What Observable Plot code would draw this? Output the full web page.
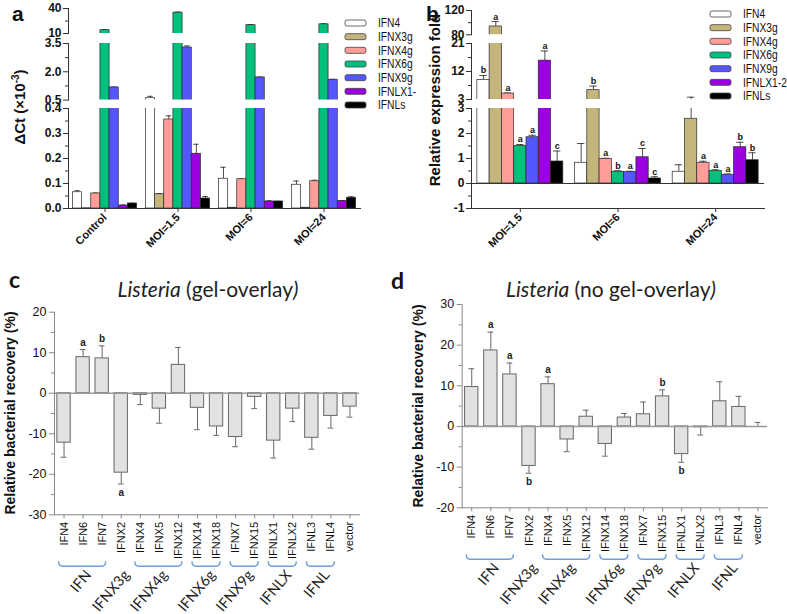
<!DOCTYPE html>
<html><head><meta charset="utf-8">
<script src="https://cdn.jsdelivr.net/npm/d3@7"></script>
<script src="https://cdn.jsdelivr.net/npm/@observablehq/plot@0.6"></script>
<style>
html,body{margin:0;padding:0;background:#fff;}
#root{position:relative;width:787px;height:614px;overflow:hidden;font-family:"Liberation Sans",Arial,sans-serif;color:#111;}
</style></head>
<body><div id="root"></div>
<script>
// ---------- data ----------
const seriesNames = ["IFN4","IFNX3g","IFNX4g","IFNX6g","IFNX9g","IFNLX1-2","IFNLs"];
const legendALabels = ["IFN4","IFNX3g","IFNX4g","IFNX6g","IFNX9g","IFNLX1-","IFNLs"];
const legendBLabels = ["IFN4","IFNX3g","IFNX4g","IFNX6g","IFNX9g","IFNLX1-2","IFNLs"];
const seriesColors = ["#ffffff","#c4b57c","#ff9e98","#00c07b","#5656ff","#9a00e0","#000000"];

const aGroups = ["Control","MOI=1.5","MOI=6","MOI=24"];
const aValues = [
  [0.065, 0.001, 0.060, 14.0, 1.17, 0.012, 0.020],
  [0.600, 0.057, 0.356, 35.0, 3.29, 0.219, 0.040],
  [0.119, 0.003, 0.117, 20.0, 1.70, 0.028, 0.028],
  [0.095, 0.003, 0.109, 21.0, 1.58, 0.030, 0.043]];
const aErrors = [
  [0.006, 0, 0.002, 0.6, 0.02, 0.002, 0.001],
  [0.100, 0.003, 0.015, 0.8, 0.08, 0.038, 0.008],
  [0.046, 0, 0.002, 0.8, 0.02, 0.003, 0.001],
  [0.015, 0, 0.004, 0.8, 0.02, 0.002, 0.004]];
const aTopTicks = [10, 40], aTopMinor = [25];
const aMidTicks = [0.5, 2.0, 3.5], aMidMinor = [1.25, 2.75];
const aLowTicks = [0, 0.1, 0.2, 0.3, 0.4], aLowMinor = [0.05, 0.15, 0.25, 0.35];

const bGroups = ["MOI=1.5","MOI=6","MOI=24"];
const bValues = [
  [9.3, 93.7, 4.9, 1.50, 1.85, 15.5, 0.88],
  [0.83, 6.0, 0.98, 0.47, 0.46, 1.05, 0.20],
  [0.47, 2.59, 0.83, 0.50, 0.35, 1.45, 0.93]];
const bErrors = [
  [1.4, 8.0, 0.2, 0.06, 0.08, 3.1, 0.42],
  [0.77, 1.3, 0.03, 0.04, 0.03, 0.35, 0.07],
  [0.28, 1.15, 0.06, 0.05, 0.03, 0.2, 0.30]];
const bLetters = [
  ["b","a","a","a","a","a","c"],
  ["","b","a","b","a","c","c"],
  ["","","a","a","a","b","b"]];
const bTopTicks = [80, 120], bTopMinor = [100];
const bMidTicks = [3, 12, 21], bMidMinor = [7.5, 16.5];
const bLowTicks = [-1, 0, 1, 2, 3], bLowMinor = [-0.5, 0.5, 1.5, 2.5];

const recCats = ["IFN4","IFN6","IFN7","IFNX2","IFNX4","IFNX5","IFNX12","IFNX14","IFNX18","IFNX7","IFNX15","IFNLX1","IFNLX2","IFNL3","IFNL4","vector"];
const cValues = [-12.2, 8.9, 8.6, -19.6, -0.4, -3.8, 7.0, -3.6, -8.2, -10.8, -0.9, -11.7, -3.8, -11.0, -5.6, -3.3];
const cErrors = [3.6, 1.9, 3.1, 2.8, 2.4, 3.6, 4.3, 5.4, 2.2, 2.4, 2.9, 4.3, 3.2, 2.8, 3.0, 2.6];
const cLetters = ["","a","b","a","","","","","","","","","","","",""];
const cTicks = [-30, -20, -10, 0, 10, 20], cMinor = [-25, -15, -5, 5, 15];

const dValues = [9.7, 18.7, 12.8, -9.7, 10.4, -3.2, 2.4, -4.3, 2.2, 3.0, 7.4, -6.8, -0.2, 6.2, 4.8, 0];
const dErrors = [4.5, 4.5, 2.8, 1.8, 1.8, 3.0, 1.6, 3.0, 1.0, 3.0, 1.6, 2.0, 1.9, 4.8, 2.6, 1.0];
const dLetters = ["","a","a","b","a","","","","","","b","b","","","",""];
const dTicks = [-20, -10, 0, 10, 20, 30], dMinor = [-15, -5, 5, 15, 25];

const groupNames = ["IFN","IFNX3g","IFNX4g","IFNX6g","IFNX9g","IFNLX","IFNL"];
const groupFirst = ["IFN4","IFNX2","IFNX4","IFNX14","IFNX7","IFNLX1","IFNL3"];
const groupLast  = ["IFN7","IFNX2","IFNX12","IFNX18","IFNX15","IFNLX2","IFNL4"];

// ---------- helpers ----------
const root = document.getElementById("root");
const FONT = "'Liberation Sans', Arial, sans-serif";
const CAL = "Lato, 'Open Sans', sans-serif";
const baseStyle = {background: "transparent", overflow: "visible", fontFamily: FONT, color: "#111", maxWidth: "none"};
function place(el, left, top) {
  el.style.position = "absolute"; el.style.left = left + "px"; el.style.top = top + "px";
  root.appendChild(el); return el;
}

function barSegment(cfg) {
  const {groups, values, errors, letters, domain, major, minor, fmt, svgLeft, svgWidth, mL, mR, fTop, fBottom, bottom, zero} = cfg;
  const mT = 14, mB = bottom ? 70 : 2;
  const n = groups.length, k = seriesNames.length, pI = 0.12, pO = 0.06;
  const bw = (svgWidth - mL - mR) / (n - pI + 2 * pO) * (1 - pI);
  const w = bw / k;
  const rows = [];
  groups.forEach((g, gi) => seriesNames.forEach((s, si) => rows.push({
    group: g, si, value: values[gi][si], hi: values[gi][si] + errors[gi][si],
    letter: letters ? letters[gi][si] : ""})));
  const marks = [];
  for (let si = 0; si < k; si++) {
    const d = rows.filter(r => r.si === si);
    const il = si * w, ir = (k - 1 - si) * w, dx = il + w / 2 - bw / 2;
    const de = d.filter(r => r.hi > r.value);
    marks.push(Plot.ruleX(de, {x: "group", y1: "value", y2: "hi", dx, stroke: "#222", strokeWidth: 0.8, clip: true}));
    marks.push(Plot.tickY(de, {x: "group", y: "hi", insetLeft: il + w * 0.2, insetRight: ir + w * 0.2, stroke: "#222", strokeWidth: 0.8, clip: true}));
    marks.push(Plot.barY(d, {x: "group", y: "value", fill: seriesColors[si], stroke: "#2a2a2a", strokeWidth: 0.7, insetLeft: il, insetRight: ir, clip: true}));
    const dl = d.filter(r => r.letter && r.hi >= domain[0] && r.hi <= domain[1]);
    marks.push(Plot.text(dl, {x: "group", y: "hi", text: "letter", dx, dy: -5, fontSize: 9, fontWeight: "bold", fill: "#111"}));
  }
  marks.push(Plot.axisY({ticks: major, tickFormat: fmt, tickSize: 5, tickPadding: 2, fontSize: 12, fontWeight: "bold", label: null, stroke: "#333"}));
  marks.push(Plot.axisY({ticks: minor, tickFormat: () => "", tickSize: 3, label: null, stroke: "#333"}));
  marks.push(Plot.frame({anchor: "left", stroke: "#333"}));
  if (zero) marks.push(Plot.ruleY([0], {stroke: "#333", strokeWidth: 1}));
  if (bottom) {
    marks.push(Plot.frame({anchor: "bottom", stroke: "#333"}));
    marks.push(Plot.axisX({tickRotate: -45, tickSize: 4, tickPadding: 3, fontSize: 11, fontWeight: "bold", label: null, stroke: "#333"}));
  }
  const svg = Plot.plot({
    width: svgWidth, height: mT + (fBottom - fTop) + mB,
    marginLeft: mL, marginRight: mR, marginTop: mT, marginBottom: mB,
    x: bottom ? {domain: groups, paddingInner: pI, paddingOuter: pO, round: false, label: null}
              : {domain: groups, paddingInner: pI, paddingOuter: pO, round: false, label: null, axis: null},
    y: {domain, label: null},
    style: baseStyle, marks});
  place(svg, svgLeft, fTop - mT);
}

function recoveryPanel(cfg) {
  const {values, errors, letters, domain, major, minor, svgLeft, svgTop, svgWidth, mL, mR, mT, frameH, mB} = cfg;
  const data = recCats.map((c, i) => ({cat: c, value: values[i],
    end: values[i] + (values[i] >= 0 ? 1 : -1) * errors[i], letter: letters[i]}));
  const marks = [
    Plot.ruleX(data, {x: "cat", y1: "value", y2: "end", stroke: "#666", strokeWidth: 1}),
    Plot.tickY(data, {x: "cat", y: "end", insetLeft: 3.8, insetRight: 3.8, stroke: "#666", strokeWidth: 1}),
    Plot.barY(data.filter(d => d.value !== 0), {x: "cat", y: "value", fill: "#e2e2e2", stroke: "#666", strokeWidth: 1}),
    Plot.ruleY([0], {stroke: "#999", strokeWidth: 1.4}),
    Plot.text(data.filter(d => d.letter && d.value >= 0), {x: "cat", y: "end", text: "letter", dy: -7, fontSize: 10, fontWeight: "bold", fill: "#222"}),
    Plot.text(data.filter(d => d.letter && d.value < 0), {x: "cat", y: "end", text: "letter", dy: 9, fontSize: 10, fontWeight: "bold", fill: "#222"}),
    Plot.axisY({ticks: major, tickFormat: d => String(d), tickSize: 5, tickPadding: 3, fontSize: 12.5, label: null, stroke: "#888"}),
    Plot.axisY({ticks: minor, tickFormat: () => "", tickSize: 3, label: null, stroke: "#888"}),
    Plot.frame({anchor: "left", stroke: "#888"}),
    Plot.frame({anchor: "bottom", stroke: "#888"}),
    Plot.axisX({tickRotate: -90, tickSize: 4, tickPadding: 3, fontSize: 11, label: null, stroke: "#888"})
  ];
  const svg = Plot.plot({
    width: svgWidth, height: mT + frameH + mB,
    marginLeft: mL, marginRight: mR, marginTop: mT, marginBottom: mB,
    x: {domain: recCats, paddingInner: 0.3, paddingOuter: 0.15, round: false, label: null},
    y: {domain, label: null},
    style: baseStyle, marks});
  // group brackets and labels positioned from the plot's x scale
  const xs = svg.scale("x");
  const cx = c => xs.apply(c) + xs.bandwidth / 2;
  const fb = mT + frameH;
  const g = d3.select(svg).append("g");
  groupNames.forEach((name, i) => {
    const x1 = cx(groupFirst[i]) - 5, x2 = cx(groupLast[i]) + 4;
    if (groupFirst[i] !== groupLast[i]) {
      g.append("path").attr("d", `M${x1},${fb + 47} Q${x1},${fb + 52} ${x1 + 4},${fb + 52} L${x2 - 4},${fb + 52} Q${x2},${fb + 52} ${x2},${fb + 47}`)
        .attr("fill", "none").attr("stroke", "#6a9fd8").attr("stroke-width", 1.4);
    }
    const m = (x1 + x2) / 2;
    g.append("text").attr("transform", `translate(${m + 10},${fb + 61}) rotate(-50)`)
      .attr("text-anchor", "end").attr("font-family", CAL).attr("font-size", 14.5).attr("fill", "#222").text(name);
  });
  place(svg, svgLeft, svgTop);
}

// ---------- panel a ----------
const aCommon = {groups: aGroups, values: aValues, errors: aErrors, letters: null, svgLeft: 0, svgWidth: 390, mL: 68, mR: 30};
barSegment({...aCommon, domain: [10, 40], major: aTopTicks, minor: aTopMinor, fmt: d3.format("d"), fTop: 8.3, fBottom: 33.3});
barSegment({...aCommon, domain: [0.5, 3.5], major: aMidTicks, minor: aMidMinor, fmt: d3.format(".1f"), fTop: 42.7, fBottom: 99.3});
barSegment({...aCommon, domain: [0, 0.4], major: aLowTicks, minor: aLowMinor, fmt: d3.format(".1f"), fTop: 108, fBottom: 208, bottom: true});

// ---------- panel b ----------
const bCommon = {groups: bGroups, values: bValues, errors: bErrors, letters: bLetters, svgLeft: 390, svgWidth: 397, mL: 81, mR: 23};
barSegment({...bCommon, domain: [80, 120], major: bTopTicks, minor: bTopMinor, fmt: d3.format("d"), fTop: 10, fBottom: 34.3});
barSegment({...bCommon, domain: [3, 21], major: bMidTicks, minor: bMidMinor, fmt: d3.format("d"), fTop: 43.3, fBottom: 99.3});
barSegment({...bCommon, domain: [-1, 3], major: bLowTicks, minor: bLowMinor, fmt: d => String(d), fTop: 108.3, fBottom: 208.3, bottom: true, zero: true});

// ---------- panels c, d ----------
recoveryPanel({values: cValues, errors: cErrors, letters: cLetters, domain: [-30, 20], major: cTicks, minor: cMinor,
  svgLeft: 0, svgTop: 290, svgWidth: 390, mL: 54, mR: 31, mT: 21.7, frameH: 202.6, mB: 100});
recoveryPanel({values: dValues, errors: dErrors, letters: dLetters, domain: [-20, 30], major: dTicks, minor: dMinor,
  svgLeft: 390, svgTop: 290, svgWidth: 397, mL: 71.7, mR: 20, mT: 14, frameH: 203.3, mB: 110});

// ---------- overlay text: letters, titles, legends ----------
const ov = d3.create("svg").attr("width", 787).attr("height", 614).style("pointer-events", "none").style("overflow", "visible");
function txt(x, y, s, opt = {}) {
  const t = ov.append("text").attr("x", x).attr("y", y).attr("font-family", opt.font || FONT)
    .attr("font-size", opt.size || 12).attr("font-weight", opt.weight || "normal").attr("fill", opt.fill || "#111")
    .attr("text-anchor", opt.anchor || "start");
  if (opt.rotate) t.attr("transform", `rotate(${opt.rotate},${x},${y})`);
  if (s !== null) t.text(s);
  return t;
}
txt(12, 21, "a", {size: 21, weight: "bold"});
txt(426, 21, "b", {size: 21, weight: "bold"});
txt(9, 288, "c", {size: 23, weight: "bold", font: CAL});
txt(391, 289, "d", {size: 23, weight: "bold", font: CAL});

const at = txt(25, 107, null, {size: 15, weight: "bold", anchor: "middle", rotate: -90});
at.append("tspan").text("ΔCt (×10");
at.append("tspan").attr("dy", -6).attr("font-size", 10).text("-3");
at.append("tspan").attr("dy", 6).text(")");
txt(440, 100, "Relative expression fold", {size: 15, weight: "bold", anchor: "middle", rotate: -90});
txt(15, 413, "Relative bacterial recovery (%)", {size: 14, weight: "bold", anchor: "middle", rotate: -90});
txt(423, 406, "Relative bacterial recovery (%)", {size: 14, weight: "bold", anchor: "middle", rotate: -90});

function title(x, y, rest) {
  const t = txt(x, y, null, {size: 21, font: CAL, anchor: "middle", fill: "#222"});
  t.append("tspan").attr("font-style", "italic").text("Listeria");
  t.append("tspan").text(" (" + rest);
  t.append("tspan").attr("font-style", "italic").text(")");
}
title(208, 297, "gel-overlay");
title(611, 297, "no gel-overlay");

function legend(x, y, labels) {
  labels.forEach((lab, i) => {
    const yy = y + i * 13.67;
    ov.append("rect").attr("x", x).attr("y", yy - 3).attr("width", 21).attr("height", 6).attr("rx", 2)
      .attr("fill", seriesColors[i]).attr("stroke", "#444").attr("stroke-width", 0.8);
    ov.append("text").attr("transform", `translate(${x + 33},${yy + 4.3}) scale(0.82,1)`)
      .attr("font-family", FONT).attr("font-size", 12.5).attr("fill", "#111").text(lab);
  });
}
legend(345, 23, legendALabels);
legend(710, 14, legendBLabels);

place(ov.node(), 0, 0);
</script></body></html>
